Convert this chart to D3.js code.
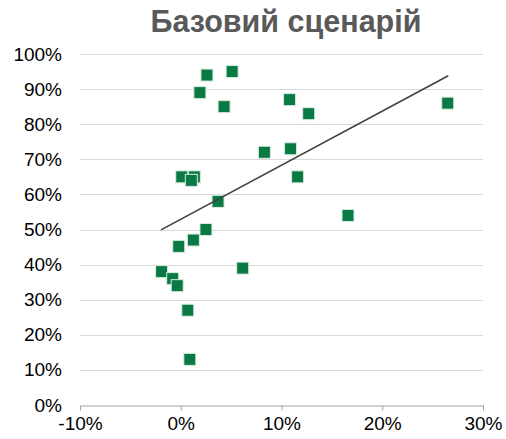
<!DOCTYPE html>
<html><head><meta charset="utf-8">
<script src="https://cdn.jsdelivr.net/npm/d3@7"></script>
<style>body{margin:0;background:#fff}svg{display:block}</style>
</head><body><svg id="c" width="506" height="439"></svg>
<script>
const title = "Базовий сценарій";
const xTicks = [-0.1, 0, 0.1, 0.2, 0.3];
const yTicks = [0, 0.1, 0.2, 0.3, 0.4, 0.5, 0.6, 0.7, 0.8, 0.9, 1.0];
const xValues = [0.001, 0.0135, 0.026, 0.051, 0.019, 0.043, 0.108, 0.127, 0.083, 0.109, 0.116, 0.0105,
                 0.037, 0.025, 0.0125, -0.002, -0.019, -0.008, -0.0035, 0.0615, 0.007, 0.009, 0.265, 0.166];
const yValues = [0.65, 0.65, 0.94, 0.95, 0.89, 0.85, 0.87, 0.83, 0.72, 0.73, 0.65, 0.64,
                 0.58, 0.50, 0.47, 0.452, 0.38, 0.36, 0.34, 0.39, 0.27, 0.13, 0.86, 0.54];
const trendX = [-0.0196, 0.2655];
const trendY = [0.499, 0.938];

const svg = d3.select("#c");
const x = d3.scaleLinear().domain([-0.1, 0.3]).range([80, 483]);
const y = d3.scaleLinear().domain([0, 1]).range([405, 54]);
const pct = d => d3.format(".0%")(d).replace("\u2212", "-");

svg.append("text").attr("x", 286).attr("y", 32).attr("text-anchor", "middle")
  .attr("font-family", "Liberation Sans, Arial, sans-serif").attr("font-weight", "bold")
  .attr("font-size", 30.5).attr("fill", "#595959").text(title);

// gridlines
svg.append("g").selectAll("line").data(yTicks.filter(d => d > 0)).join("line")
  .attr("x1", 80).attr("x2", 483).attr("y1", d => Math.round(y(d)) + 0.5).attr("y2", d => Math.round(y(d)) + 0.5)
  .attr("stroke", "#d9d9d9").attr("stroke-width", 1);

// y axis labels
const yAxis = d3.axisLeft(y).tickValues(yTicks).tickFormat(pct).tickSize(0).tickPadding(18);
const gy = svg.append("g").attr("transform", "translate(80,0)").call(yAxis);
gy.select(".domain").remove();
gy.selectAll("text").attr("font-family", "Liberation Sans, Arial, sans-serif").attr("font-size", 19).attr("fill", "#000");

// x axis
const xAxis = d3.axisBottom(x).tickValues(xTicks).tickFormat(pct).tickSizeInner(5).tickSizeOuter(0).tickPadding(6);
const gx = svg.append("g").attr("transform", "translate(0," + (Math.round(y(0)) + 0.5) + ")").call(xAxis);
gx.select(".domain").attr("stroke", "#a6a6a6");
gx.selectAll(".tick line").attr("stroke", "#a6a6a6");
gx.selectAll("text").attr("font-family", "Liberation Sans, Arial, sans-serif").attr("font-size", 19).attr("fill", "#000");

// points
const pts = xValues.map((v, i) => ({x: v, y: yValues[i]}));
const s = 12;
svg.append("g").selectAll("rect").data(pts).join("rect")
  .attr("x", d => x(d.x) - s / 2).attr("y", d => y(d.y) - s / 2)
  .attr("width", s).attr("height", s)
  .attr("fill", "#0a7a44").attr("stroke", "#d6ecdf").attr("stroke-width", 1);

// trendline
svg.append("line")
  .attr("x1", x(trendX[0])).attr("y1", y(trendY[0]))
  .attr("x2", x(trendX[1])).attr("y2", y(trendY[1]))
  .attr("stroke", "#404040").attr("stroke-width", 1.6);
</script></body></html>
